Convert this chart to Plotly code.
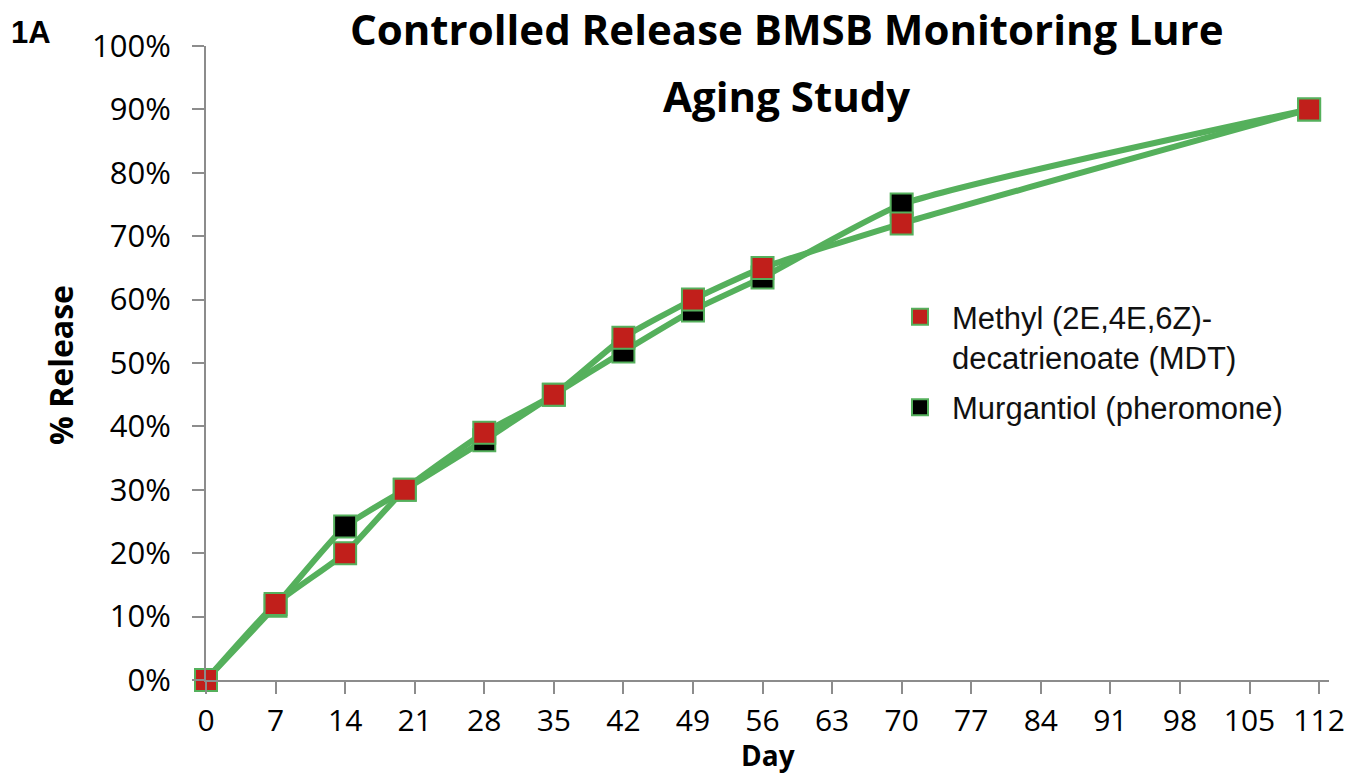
import plotly.graph_objects as go

days = [0, 7, 14, 20, 28, 35, 42, 49, 56, 70, 111]
mdt = [0, 12, 20, 30, 39, 45, 54, 60, 65, 72, 90]
murgantiol = [0, 11.7, 24.2, 30, 37.8, 45, 51.8, 58.3, 63.5, 75, 90]
x_ticks = list(range(0, 113, 7))
y_ticks = list(range(0, 101, 10))
y_tick_labels = [f"{v}%" for v in y_ticks]

GREEN = "#55b05c"
RED = "#c11f1b"
BLACK = "#000000"
AXIS = "#8c8c8c"

W, H = 1364, 775
L, R, T, B = 206, 35, 46, 95
pw, ph = W - L - R, H - T - B


def px_x(px):
    return (px - L) / pw


def px_y(py):
    return (H - B - py) / ph


fig = go.Figure()
# lines
for ys in (murgantiol, mdt):
    fig.add_trace(go.Scatter(x=days, y=ys, mode="lines",
                             line=dict(color=GREEN, width=6, shape="spline", smoothing=0.5),
                             showlegend=False, hoverinfo="skip", cliponaxis=False))
# markers
fig.add_trace(go.Scatter(x=days, y=murgantiol, mode="markers",
                         name="Murgantiol (pheromone)",
                         marker=dict(symbol="square", size=22, color=BLACK,
                                     line=dict(color=GREEN, width=2)),
                         cliponaxis=False, legendrank=2, legendgroup="b"))
fig.add_trace(go.Scatter(x=days, y=mdt, mode="markers",
                         name="Methyl (2E,4E,6Z)-<br>decatrienoate (MDT)",
                         marker=dict(symbol="square", size=22, color=RED,
                                     line=dict(color=GREEN, width=2)),
                         cliponaxis=False, legendrank=1, legendgroup="a"))

fig.update_layout(
    width=W, height=H,
    margin=dict(l=L, r=R, t=T, b=B, autoexpand=False),
    plot_bgcolor="white", paper_bgcolor="white",
    font=dict(family="Open Sans", color="black"),
    showlegend=True,
    legend=dict(x=px_x(888), y=px_y(290), xanchor="left", yanchor="top",
                valign="top", traceorder="grouped", tracegroupgap=7, itemwidth=54,
                font=dict(family="Liberation Sans", size=31, color="#111111"),
                bgcolor="rgba(0,0,0,0)"),
    xaxis=dict(range=[0, 113], tickmode="array", tickvals=x_ticks,
               ticktext=[str(v) for v in x_ticks], automargin=False,
               showgrid=False, zeroline=False, showline=True, linecolor=AXIS, linewidth=2,
               ticks="outside", ticklen=12, tickwidth=1.5, tickcolor=AXIS,
               tickfont=dict(family="Open Sans", size=30, color="black"),
               ticklabelstandoff=1),
    yaxis=dict(range=[0, 100], tickmode="array", tickvals=y_ticks, ticktext=y_tick_labels,
               automargin=False,
               showgrid=False, zeroline=False, showline=True, linecolor=AXIS, linewidth=2,
               ticks="outside", ticklen=12, tickwidth=1.5, tickcolor=AXIS,
               tickfont=dict(family="Open Sans", size=31, color="black"),
               ticklabelstandoff=15),
)

anns = [
    dict(text="<b>Controlled Release BMSB Monitoring Lure</b>", x=px_x(786), y=px_y(29),
         font=dict(family="Open Sans", size=42, color="black")),
    dict(text="<b>Aging Study</b>", x=px_x(786), y=px_y(96),
         font=dict(family="Open Sans", size=42, color="black")),
    dict(text="<b>1A</b>", x=px_x(31), y=px_y(33),
         font=dict(family="Liberation Sans", size=31, color="black")),
    dict(text="<b>Day</b>", x=px_x(768), y=px_y(755),
         font=dict(family="Open Sans", size=28, color="black")),
    dict(text="<b>% Release</b>", x=px_x(60), y=px_y(365), textangle=-90,
         font=dict(family="Open Sans", size=32, color="black")),
]
for a in anns:
    a.update(xref="paper", yref="paper", showarrow=False, xanchor="center", yanchor="middle")
fig.update_layout(annotations=anns)

fig.write_html("out.html", config={"displayModeBar": False},
               post_script="document.body.style.margin='0px';document.body.style.overflow='hidden';")
